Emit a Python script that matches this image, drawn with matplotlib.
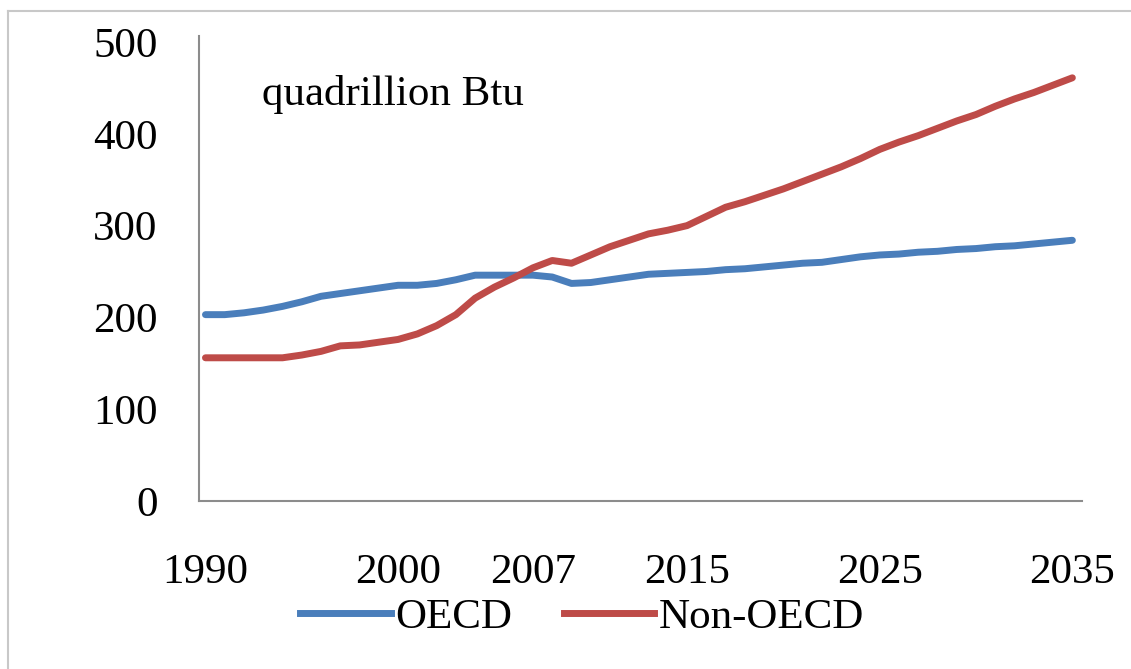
import matplotlib.pyplot as plt
from matplotlib.lines import Line2D

# data (quadrillion Btu)
years = list(range(1990, 2036))
oecd = [203, 203, 205, 208, 212, 217, 223, 226, 229, 232,
        235, 235, 237, 241, 246, 246, 246, 246, 244, 237,
        238, 241, 244, 247, 248, 249, 250, 252, 253, 255,
        257, 259, 260, 263, 266, 268, 269, 271, 272, 274,
        275, 277, 278, 280, 282, 284]
non_oecd = [156, 156, 156, 156, 156, 159, 163, 169, 170, 173,
            176, 182, 191, 203, 221, 233, 243, 254, 262, 259,
            268, 277, 284, 291, 295, 300, 310, 320, 326, 333,
            340, 348, 356, 364, 373, 383, 391, 398, 406, 414,
            421, 430, 438, 445, 453, 461]
series_names = ['OECD', 'Non-OECD']
xtick_years = [1990, 2000, 2007, 2015, 2025, 2035]
yticks = [0, 100, 200, 300, 400, 500]

colors = {'oecd': '#4A7EBB', 'non_oecd': '#BE4B48', 'axis': '#8C8C8C', 'frame': '#C8C8C8'}
font = 'Liberation Serif'
W, H = 1131, 669

fig = plt.figure(figsize=(W / 100, H / 100), dpi=100)
ax = fig.add_axes([199.3 / W, 1 - 501 / H, (1082 - 199.3) / W, (501 - 42) / H])

ax.plot(years, oecd, color=colors['oecd'], lw=5, solid_capstyle='round', label=series_names[0])
ax.plot(years, non_oecd, color=colors['non_oecd'], lw=5, solid_capstyle='round', label=series_names[1])

ax.set_xlim(1989.68, 2035.5)
ax.set_ylim(0, 500)
ax.set_xticks(xtick_years)
ax.set_yticks(yticks)
ax.set_xticklabels([str(y) for y in xtick_years], fontfamily=font, fontsize=31)
ax.set_yticklabels([str(v) for v in yticks], fontfamily=font, fontsize=31)
ax.tick_params(axis='both', length=0)
ax.tick_params(axis='x', pad=38)
ax.tick_params(axis='y', pad=30)

for s in ['top', 'right']:
    ax.spines[s].set_visible(False)
for s in ['left', 'bottom']:
    ax.spines[s].set_color(colors['axis'])
    ax.spines[s].set_linewidth(1.5)
ax.spines['left'].set_bounds(0, 507)
ax.set_clip_on(False)

fig.text(262 / W, 1 - 105 / H, 'quadrillion Btu', fontfamily=font, fontsize=31,
         ha='left', va='baseline')

handles = [Line2D([], [], color=colors['oecd'], lw=5),
           Line2D([], [], color=colors['non_oecd'], lw=5)]
fig.legend(handles, series_names, loc='center', bbox_to_anchor=(582 / W, 1 - 617 / H),
           ncol=2, frameon=False, prop={'family': font, 'size': 31},
           handlelength=2.1, handletextpad=0.1, columnspacing=1.2,
           borderaxespad=0, borderpad=0)

# light outer frame, top and left edges only
fig.add_artist(Line2D([8 / W, 1], [1 - 11 / H, 1 - 11 / H], color=colors['frame'], lw=1.5))
fig.add_artist(Line2D([8 / W, 8 / W], [0, 1 - 11 / H], color=colors['frame'], lw=1.5))

fig.savefig('out.png', dpi=100, facecolor='white')
